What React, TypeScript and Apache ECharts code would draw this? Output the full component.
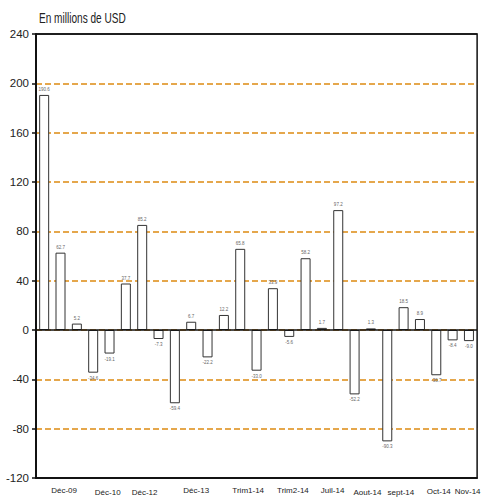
import React, { useEffect, useRef } from "react";
import * as echarts from "echarts";

const categories = [
  "", "Déc-09", "", "", "Déc-10", "", "Déc-12", "", "", "Déc-13", "", "",
  "Trim1-14", "", "", "Trim2-14", "", "", "Juil-14", "", "Aout-14", "",
  "sept-14", "", "Oct-14", "", "Nov-14",
];

const values = [
  190.6, 62.7, 5.2, -34.6, -19.1, 37.7, 85.2, -7.3, -59.4, 6.7, -22.2, 12.2,
  65.8, -33.0, 33.9, -5.6, 58.2, 1.7, 97.2, -52.2, 1.3, -90.3, 18.5, 8.9,
  -36.7, -8.4, -9.0,
];

const yTicks = { min: -120, max: 240, interval: 40 };
const titleText = "En millions de USD";

// label nudges (pixels): [dx, dy]
const labelNudge: Record<string, [number, number]> = {
  "Déc-09": [3.6, 1.7],
  "Déc-10": [-1.8, 4],
  "Déc-12": [2.4, 4],
  "Déc-13": [5, 1],
  "Trim1-14": [8, 1.7],
  "Trim2-14": [3.7, 1],
  "Juil-14": [-5.7, 0],
  "Aout-14": [-3.5, 4],
  "sept-14": [-2.7, 4],
  "Oct-14": [2.5, 3],
  "Nov-14": [-1.3, 3],
};

const FONT = "'Liberation Sans Narrow', 'Liberation Sans', Arial, sans-serif";
const ORANGE = "#DD8A12";

export default function App() {
  const ref = useRef<HTMLDivElement>(null);
  useEffect(() => {
    document.body.style.margin = "0";
    if (!ref.current) return;
    const chart = echarts.init(ref.current, undefined, { renderer: "svg" });

    const rich: Record<string, any> = {};
    categories.forEach((c, i) => {
      if (!c) return;
      const [dx, dy] = labelNudge[c] || [0, 0];
      rich["l" + i] = {
        fontSize: 8,
        fontFamily: FONT,
        color: "#222",
        lineHeight: 10,
        padding: [dy, dx < 0 ? -2 * dx : 0, 0, dx > 0 ? 2 * dx : 0],
      };
    });

    const nLines = Math.round((yTicks.max - yTicks.min) / yTicks.interval) + 1;
    const splitColors = Array.from({ length: nLines }, (_, i) =>
      i === 0 || i === nLines - 1 ? "rgba(0,0,0,0)" : ORANGE
    );

    chart.setOption({
      animation: false,
      graphic: [
        {
          type: "text",
          left: 39,
          top: 11,
          scaleX: 0.72,
          style: {
            text: titleText,
            fontSize: 14,
            fontFamily: FONT,
            fill: "#222",
          },
        },
      ],
      grid: {
        left: 36,
        right: 1,
        top: 34,
        bottom: 24,
        show: true,
        borderColor: "#111",
        borderWidth: 1.5,
        backgroundColor: "transparent",
      },
      xAxis: {
        type: "category",
        data: categories,
        axisLine: { onZero: false, lineStyle: { color: "#111", width: 1.5 } },
        axisTick: { show: false },
        axisLabel: {
          interval: 0,
          margin: 7,
          formatter: (v: string, i: number) => (v ? `{l${i}|${v}}` : ""),
          rich,
        },
        splitLine: { show: false },
      },
      yAxis: {
        type: "value",
        min: yTicks.min,
        max: yTicks.max,
        interval: yTicks.interval,
        axisLine: { show: true, lineStyle: { color: "#111", width: 2 } },
        axisTick: { show: true, length: 4, lineStyle: { color: "#111", width: 1.5 } },
        axisLabel: {
          fontSize: 11.5,
          fontFamily: FONT,
          color: "#222",
          margin: 7,
        },
        splitLine: {
          show: true,
          lineStyle: { color: splitColors, type: [6, 3], width: 1.5 },
        },
      },
      series: [
        {
          type: "bar",
          data: values.map((v) => ({
            value: v,
            label: { position: v < 0 ? "bottom" : "top" },
          })),
          barWidth: 10,
          itemStyle: {
            color: "#fff",
            borderColor: "#333",
            borderWidth: 1,
          },
          label: {
            show: true,
            fontSize: 4.5,
            fontFamily: FONT,
            color: "#666",
            distance: 3,
            formatter: (p: any) => Number(p.value).toFixed(1),
          },
          markLine: {
            silent: true,
            symbol: "none",
            label: { show: false },
            lineStyle: { color: "#111", type: "solid", width: 1.5 },
            data: [{ yAxis: 0 }, { yAxis: yTicks.max }, { yAxis: yTicks.min }],
          },
        },
      ],
    });
    return () => chart.dispose();
  }, []);
  return <div ref={ref} style={{ width: 486, height: 502 }} />;
}
